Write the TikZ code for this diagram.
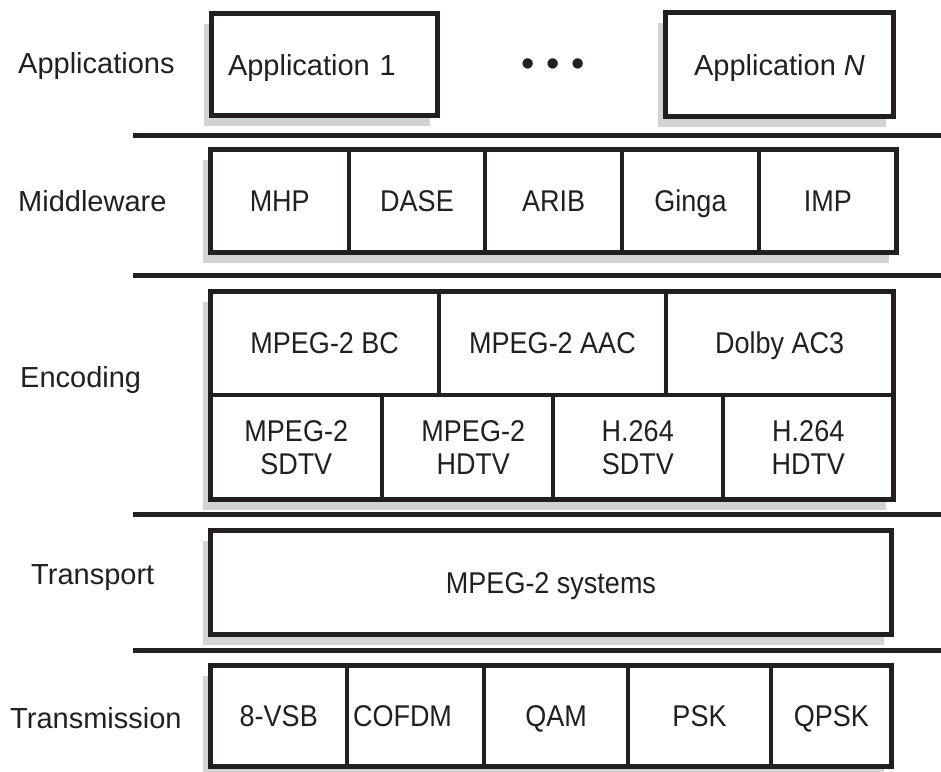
\documentclass[tikz,border=0pt]{standalone}
\usepackage{fontspec}
\setmainfont{Liberation Sans}
\newfontfamily\condfont[FakeStretch=0.9]{Liberation Sans}
\usepackage{xcolor}
\usepackage{tikz}
\usetikzlibrary{shadows}
\definecolor{ink}{RGB}{35,31,32}
\definecolor{shadowgray}{RGB}{209,211,212}
\newcommand{\lblfont}{\fontsize{29}{32}\selectfont}
\newcommand{\cellfont}{\condfont\fontsize{30}{33}\selectfont}

\begin{document}
\begin{tikzpicture}[x=1pt,y=-1pt,font=\cellfont,text=ink,
  frame/.style 2 args={draw=ink,line width=5pt,fill=white,inner sep=0pt,align=center,
    minimum width=#1,minimum height=#2,text height=21pt,text depth=0pt,
    general shadow={fill=shadowgray,shadow xshift=-8pt,shadow yshift=-10pt}},
  cell/.style 2 args={draw=ink,line width=4pt,inner sep=0pt,align=center,
    minimum width=#1,minimum height=#2,text height=21pt,text depth=0pt},
  tall/.style={text height=,text depth=},
  lbl/.style={font=\lblfont,anchor=west,inner sep=0pt},
  sep/.style={draw=ink,line width=5pt}]
  \useasboundingbox (0,0) rectangle (941,771);
  % layer names
  \node[lbl] (apps) at (18,66) {Applications};
  \node[lbl] (mwl) at (18,201) {Middleware};
  \node[lbl] (encl) at (20,380) {Encoding};
  \node[lbl] (trl) at (31,578) {Transport};
  \node[lbl] (txl) at (10,718) {Transmission};
  % separators
  \draw[sep] (133,135.5) -- (941,135.5);
  \draw[sep] (133,275) -- (941,275);
  \draw[sep] (133,514) -- (941,514);
  \draw[sep] (133,650.5) -- (941,650.5);
  % applications
  \node[frame={226pt}{102pt},font=\lblfont,text width=193pt,inner xsep=16.5pt,align=left]
    (app1) at (324.5,64.5) {Application 1};
  \node[font=\fontsize{38}{38}\selectfont] (dots) at (553,68) {\textbullet\hspace{12pt}\textbullet\hspace{12pt}\textbullet};
  \node[frame={228pt}{104pt},font=\lblfont] (appn) at (779.5,64.5) {Application \textit{N}};
  % middleware
  \node[frame={686pt}{103pt}] (mw) at (553.5,201) {};
  \node[cell={138.5pt}{103pt}] (mhp) at (279.75,201) {MHP};
  \node[cell={136pt}{103pt}] (dase) at (417,201) {DASE};
  \node[cell={137pt}{103pt}] (arib) at (553.5,201) {ARIB};
  \node[cell={137pt}{103pt}] (ginga) at (690.5,201) {Ginga};
  \node[cell={137.5pt}{103pt}] (imp) at (827.75,201) {IMP};
  % encoding
  \node[frame={683pt}{208pt}] (enc) at (552,395.5) {};
  \node[cell={228.5pt}{103.5pt}] (bc) at (324.75,343.25) {MPEG-2 BC};
  \node[cell={227pt}{103.5pt}] (aac) at (552.5,343.25) {MPEG-2 AAC};
  \node[cell={227.5pt}{103.5pt}] (ac3) at (779.75,343.25) {Dolby AC3};
  \node[cell={171.5pt}{104.5pt},tall] (msd) at (296.25,447.25) {MPEG-2\\SDTV};
  \node[cell={170.5pt}{104.5pt},tall] (mhd) at (467.25,447.25) {\hspace*{12pt}MPEG-2\\\hspace*{12pt}HDTV};
  \node[cell={170.5pt}{104.5pt},tall] (hsd) at (637.75,447.25) {H.264\\SDTV};
  \node[cell={170.5pt}{104.5pt},tall] (hhd) at (808.25,447.25) {H.264\\HDTV};
  % transport
  \node[frame={681pt}{104pt}] (mps) at (551,582.5) {MPEG-2 systems};
  % transmission
  \node[frame={681pt}{100.5pt}] (tx) at (551,715.75) {};
  \node[cell={136.5pt}{100.5pt}] (vsb) at (278.75,715.75) {8-VSB};
  \node[cell={137pt}{100.5pt},text width=125pt,inner xsep=6pt,align=left] (cofdm) at (415.5,715.75) {COFDM};
  \node[cell={144pt}{100.5pt}] (qam) at (556,715.75) {QAM};
  \node[cell={143pt}{100.5pt}] (psk) at (699.5,715.75) {PSK};
  \node[cell={120.5pt}{100.5pt}] (qpsk) at (831.25,715.75) {QPSK};
\end{tikzpicture}
\end{document}
